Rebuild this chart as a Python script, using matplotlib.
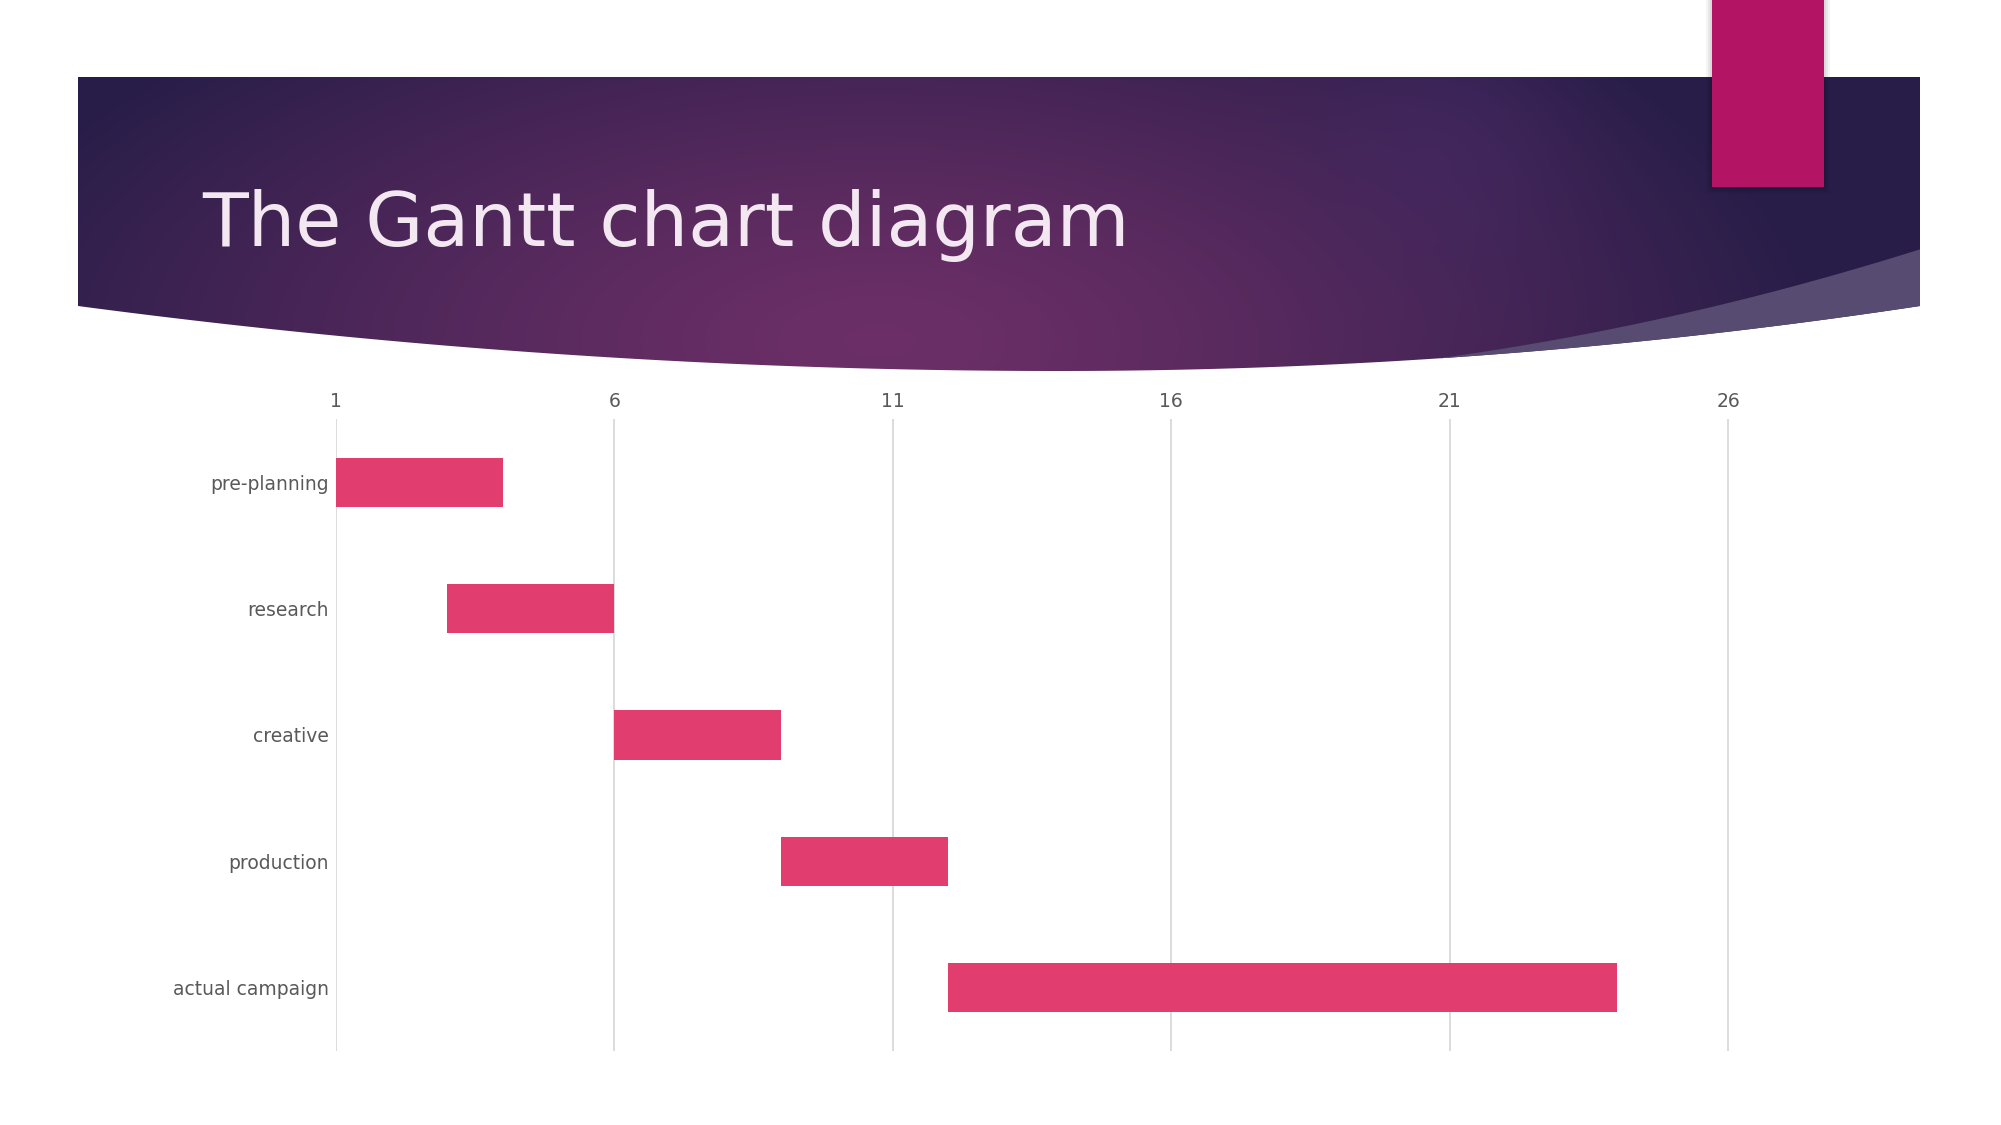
import numpy as np
import matplotlib
matplotlib.use("Agg")
import matplotlib.pyplot as plt
from matplotlib.path import Path
from matplotlib.patches import PathPatch, Rectangle
from matplotlib.colors import to_rgb

# gantt data
tasks = ["pre-planning", "research", "creative", "production", "actual campaign"]
starts = [1, 3, 6, 9, 12]
durations = [3, 3, 3, 3, 12]
xticks = [1, 6, 11, 16, 21, 26]
title = "The Gantt chart diagram"

W, H = 2001, 1125
fig = plt.figure(figsize=(W / 100, H / 100), dpi=100)
fig.patch.set_facecolor("white")

# background layer in pixel coords
bg = fig.add_axes([0, 0, 1, 1])
bg.set_xlim(0, W)
bg.set_ylim(H, 0)
bg.axis("off")

# banner gradient
xs = np.arange(W)
ys = np.arange(H)
X, Y = np.meshgrid(xs, ys)
r = np.sqrt(((X - 880) / 950.0) ** 2 + ((Y - 340) / 420.0) ** 2)
r = np.clip(r, 0, 1)
c_mid = np.array(to_rgb("#6c2f67"))
c_edge = np.array(to_rgb("#271d48"))
t = r[..., None] ** 1.3
img = c_mid * (1 - t) + c_edge * t
# faint glow at upper right
g = np.exp(-(((X - 1442) ** 2 + (Y - 150) ** 2) / (2 * 95.0 ** 2)))[..., None]
img = img * (1 - 0.5 * g) + np.array(to_rgb("#472a66")) * 0.5 * g

left, right, top, edge_y, low_y, low_x = 78, 1920, 77, 306, 371, 1059


def bottom_curve(x):
    x = np.asarray(x, dtype=float)
    span = np.where(x < low_x, low_x - left, right - low_x)
    tt = (x - low_x) / span
    return low_y - (low_y - edge_y) * tt ** 2


bx = np.linspace(right, left, 200)
verts = [(left, top), (right, top), (right, edge_y)] + list(zip(bx, bottom_curve(bx))) + [(left, top)]
codes = [Path.MOVETO] + [Path.LINETO] * (len(verts) - 2) + [Path.CLOSEPOLY]
banner = PathPatch(Path(verts, codes), facecolor="none", edgecolor="none")
bg.add_patch(banner)
im = bg.imshow(img, extent=(0, W, H, 0), zorder=1)
im.set_clip_path(banner)

# lighter wedge at lower right of banner
wx_pts = [1441, 1650, 1921]
wy_pts = [358, 321, 249]
coef = np.polyfit(wx_pts, wy_pts, 2)
wx = np.linspace(1441, right, 100)
wtop = np.polyval(coef, wx)
wbot = bottom_curve(wx)
wverts = list(zip(wx, wtop)) + list(zip(wx[::-1], wbot[::-1]))
wedge = PathPatch(Path(wverts + [wverts[0]], [Path.MOVETO] + [Path.LINETO] * (len(wverts) - 1) + [Path.CLOSEPOLY]),
                  facecolor="#574b72", edgecolor="none", zorder=2)
bg.add_patch(wedge)

# magenta tab with soft shadow
for k, a in enumerate([0.06, 0.05, 0.04]):
    bg.add_patch(Rectangle((1712 - 2 - k * 2, 0), 112 + 4 + k * 4, 187 + 3 + k * 2,
                           facecolor="black", alpha=a, edgecolor="none", zorder=3))
bg.add_patch(Rectangle((1712, 0), 112, 187, facecolor="#b31464", edgecolor="none", zorder=4))

fig.text(202 / W, 1 - 246 / H, title, fontsize=54, color="#f3e8f1",
         ha="left", va="baseline", zorder=5)

# gantt axes
x0, x1 = 336, 1920
y0, y1 = 419, 1051
ax = fig.add_axes([x0 / W, 1 - y1 / H, (x1 - x0) / W, (y1 - y0) / H])
ax.patch.set_alpha(0)
ypos = np.arange(len(tasks))
ax.barh(ypos, durations, left=starts, height=0.39, color="#e23d6f", zorder=3)
ax.set_xlim(1, 1 + (x1 - x0) / ((1728 - 336) / 25.0))
ax.set_ylim(len(tasks) - 0.5, -0.5)
ax.set_xticks(xticks)
ax.set_yticks(ypos)
ax.set_yticklabels(tasks)
ax.xaxis.tick_top()
ax.grid(axis="x", color="#d9d9d9", linewidth=1.3, zorder=0)
ax.set_axisbelow(True)
for s in ax.spines.values():
    s.set_visible(False)
ax.tick_params(axis="x", length=0, pad=6, labelsize=13.5, labelcolor="#595959")
ax.tick_params(axis="y", length=0, pad=5, labelsize=13.5, labelcolor="#595959")

plt.savefig("out.png", dpi=100)
